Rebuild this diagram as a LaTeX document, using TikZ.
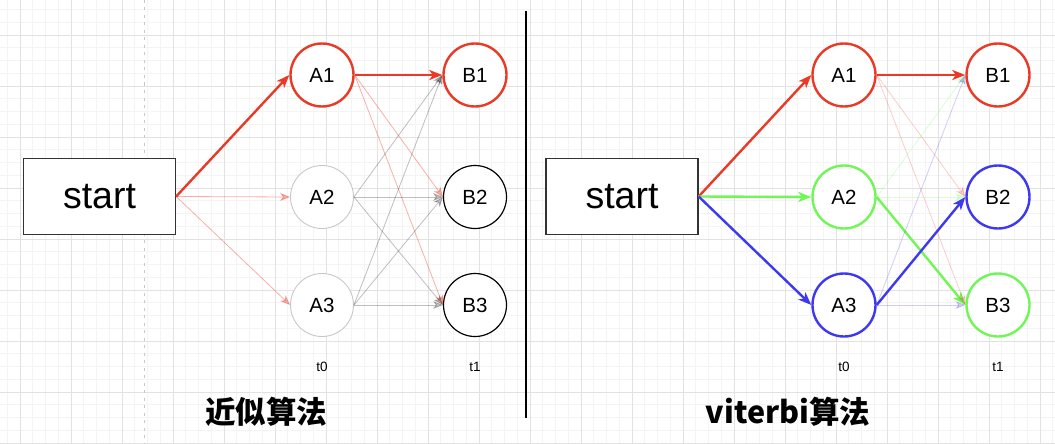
\documentclass[tikz,border=0pt]{standalone}
\usepackage{fontspec}
\setmainfont{Liberation Sans}
\newfontfamily\cjk{Noto Sans CJK SC}
\usetikzlibrary{arrows.meta}
\definecolor{hot}{RGB}{234,58,38}
\definecolor{lime}{RGB}{112,246,86}
\definecolor{deep}{RGB}{62,56,240}
\definecolor{ring}{RGB}{200,200,200}
\definecolor{gridmin}{RGB}{244,244,244}
\definecolor{gridmaj}{RGB}{226,226,226}

\tikzset{
  state/.style={circle, draw, fill=white, minimum size=63pt, inner sep=0pt,
    font=\fontsize{20.5}{24}\selectfont},
  box/.style={draw=black!80, fill=white, line width=1.3pt, minimum width=152pt,
    minimum height=76pt, font=\fontsize{37.5}{40}\selectfont},
  hit/.style={line width=2.4pt, -{Stealth[length=13pt,width=10pt,inset=3.5pt]}},
  faint/.style={line width=0.8pt, -{Stealth[length=10pt,width=8pt,inset=3pt]}},
  tlabel/.style={font=\fontsize{13.5}{15}\selectfont},
  headline/.style={font=\cjk\bfseries\fontsize{30.5}{33}\selectfont},
}

\begin{document}
\begin{tikzpicture}[x=1pt, y=-1pt]
  \useasboundingbox (0,0) rectangle (1055,444);
  % background grid
  \foreach \k in {-1,...,81}
    \draw[gridmin, line width=0.8pt] ({20+12.75*\k},0) -- ++(0,444);
  \foreach \k in {-2,...,32}
    \draw[gridmin, line width=0.8pt] (0,{35+12.75*\k}) -- ++(1055,0);
  \foreach \k in {0,...,20}
    \draw[gridmaj, line width=0.8pt] ({20+51*\k},0) -- ++(0,444);
  \foreach \k in {-1,...,8}
    \draw[gridmaj, line width=0.8pt] (0,{35+51*\k}) -- ++(1055,0);
  \draw[ring, line width=0.9pt, dash pattern=on 3pt off 4.5pt] (144,0) -- (144,444);
  \draw[line width=2pt] (525.5,11) -- (525.5,418);

  % approximate search
  \node[box] (startL) at (99.5,196.5) {start};
  \node[state, draw=hot, line width=2.4pt] (AL1) at (322,75) {A1};
  \node[state, draw=ring, line width=0.9pt] (AL2) at (322,197) {A2};
  \node[state, draw=ring, line width=0.9pt] (AL3) at (322,305) {A3};
  \node[state, draw=hot, line width=2.4pt] (BL1) at (475,75) {B1};
  \node[state, draw=black, line width=1.2pt] (BL2) at (475,197) {B2};
  \node[state, draw=black, line width=1.2pt] (BL3) at (475,305) {B3};
  \node[tlabel] (t0L) at (322,367) {t0};
  \node[tlabel] (t1L) at (475,367) {t1};
  \node[headline] (nameL) at (266,412) {近似算法};

  \draw[hit, hot] (startL.east) -- (AL1.west);
  \foreach \i in {2,3}
    \draw[faint, hot, opacity=0.4] (startL.east) -- (AL\i.west);
  \draw[hit, hot] (AL1.east) -- (BL1.west);
  \foreach \j in {2,3}
    \draw[faint, hot, opacity=0.4] (AL1.east) -- (BL\j.west);
  \foreach \i in {2,3} \foreach \j in {1,2,3}
    \draw[faint, black, opacity=0.25] (AL\i.east) -- (BL\j.west);

  % viterbi
  \node[box] (startR) at (622,196.5) {start};
  \node[state, draw=hot, line width=2.4pt] (AR1) at (844,75) {A1};
  \node[state, draw=lime, line width=2.4pt] (AR2) at (844,197) {A2};
  \node[state, draw=deep, line width=2.4pt] (AR3) at (844,305) {A3};
  \node[state, draw=hot, line width=2.4pt] (BR1) at (998,75) {B1};
  \node[state, draw=deep, line width=2.4pt] (BR2) at (998,197) {B2};
  \node[state, draw=lime, line width=2.4pt] (BR3) at (998,305) {B3};
  \node[tlabel] (t0R) at (844,367) {t0};
  \node[tlabel] (t1R) at (998,367) {t1};
  \node[headline] (nameR) at (788,412) {viterbi算法};

  \draw[hit, hot] (startR.east) -- (AR1.west);
  \draw[hit, lime] (startR.east) -- (AR2.west);
  \draw[hit, deep] (startR.east) -- (AR3.west);
  \draw[hit, hot] (AR1.east) -- (BR1.west);
  \draw[hit, lime] (AR2.east) -- (BR3.west);
  \draw[hit, deep] (AR3.east) -- (BR2.west);
  \foreach \j in {2,3}
    \draw[faint, hot, opacity=0.25] (AR1.east) -- (BR\j.west);
  \foreach \j in {1,2}
    \draw[faint, lime, opacity=0.25] (AR2.east) -- (BR\j.west);
  \foreach \j in {1,3}
    \draw[faint, deep, opacity=0.25] (AR3.east) -- (BR\j.west);
\end{tikzpicture}
\end{document}
